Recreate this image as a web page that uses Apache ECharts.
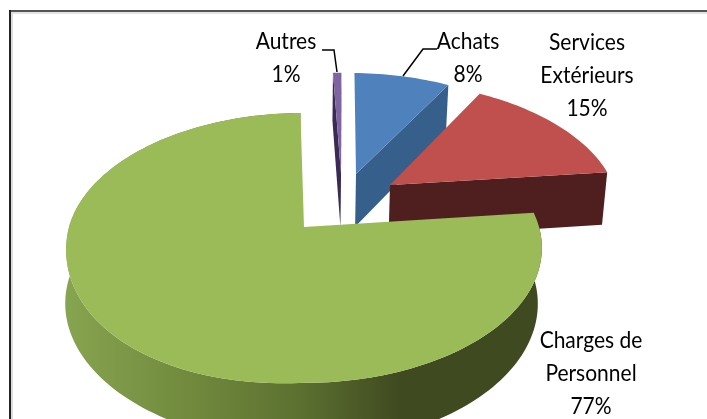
<!DOCTYPE html>
<html>
<head>
<meta charset="utf-8">
<style>
  html, body { margin: 0; padding: 0; background: #fff; }
  #chart { width: 707px; height: 419px; }
</style>
<script src="https://cdn.jsdelivr.net/npm/echarts@6/dist/echarts.min.js"></script>
</head>
<body>
<div id="chart"></div>
<script>
// drawn back to front, clockwise from the start angle
const categories = ['Autres', 'Achats', 'Services Extérieurs', 'Charges de Personnel'];
const values = [0.7, 8, 15, 77];
const percentLabels = ['1%', '8%', '15%', '77%'];

// how far each slice is pulled out of the pie, in pie radii (sideways, backwards)
const explode = [[0.168, 0.43], [0.236, 0.429], [0.385, 0.335], [0, 0]];

const topColors = ['#8064a2', '#4f81bd', '#c0504d', '#9bbb59'];
const wallColors = ['#3a2a55', '#375f8b', '#4f1f1f', '#4f5e2c'];

const startAngle = -1;
const perspective = 0.155;
// top and bottom planes of the pie
const topPlane = { x: 304, y: 227, a: 235, b: 131.7, sag: 13, spread: 0 };
const bottomPlane = { x: 304, y: 282, a: 231, b: 137.6, sag: 0, spread: 5 };

function project(plane, u, v) {
    const w = 1 + perspective * v;
    // the source picture is not quite symmetric, it bulges a little on its left
    const sag = plane.sag * Math.max(0, -u) * Math.max(0, -v);
    const spread = plane.spread * Math.max(0, -u);
    return [plane.x + plane.a * u / w - spread, plane.y - plane.b * v / w + sag];
}

// outer edge of a slice, from angle a0 to a1 in degrees
function arcPoints(plane, off, a0, a1) {
    const pts = [];
    const steps = Math.max(2, Math.ceil((a1 - a0) / 1.5));
    for (let i = 0; i <= steps; i++) {
        const t = (a0 + (a1 - a0) * i / steps) * Math.PI / 180;
        pts.push(project(plane, off[0] + Math.sin(t), off[1] + Math.cos(t)));
    }
    return pts;
}

function poly(points, fill) {
    return { type: 'polygon', shape: { points: points }, style: { fill: fill, stroke: null } };
}

const total = values.reduce((s, x) => s + x, 0);

function renderSlice(params, api) {
    const i = params.dataIndex;
    const before = values.slice(0, i).reduce((s, x) => s + x, 0);
    const a0 = startAngle + before / total * 360;
    const a1 = a0 + api.value(0) / total * 360;
    const off = explode[i];

    const topArc = arcPoints(topPlane, off, a0, a1);
    const botArc = arcPoints(bottomPlane, off, a0, a1);
    const topApex = project(topPlane, off[0], off[1]);
    const botApex = project(bottomPlane, off[0], off[1]);
    const last = topArc.length - 1;

    const children = [];
    // the thin slice shows its left cut face too
    if (i === 0) {
        children.push(poly([topApex, topArc[0], botArc[0], botApex], wallColors[i]));
    }
    if (i < 3) {
        children.push(poly([topApex, topArc[last], botArc[last], botApex], wallColors[i]));
    } else {
        // round outer wall, only the big front slice shows it
        children.push(poly(topArc.concat(botArc.slice().reverse()), new echarts.graphic.LinearGradient(0, 0, 1, 0, [
            { offset: 0, color: '#87a450' },
            { offset: 0.28, color: '#6f883c' },
            { offset: 0.5, color: '#5b6f30' },
            { offset: 0.7, color: '#404a20' },
            { offset: 1, color: '#404a20' }
        ])));
    }
    children.push(poly([topApex].concat(topArc), topColors[i]));
    return { type: 'group', children: children };
}

const chart = echarts.init(document.getElementById('chart'), null, { renderer: 'canvas' });

const labelFont = { font: '21px Lato, "Noto Sans", sans-serif', fill: '#000', textAlign: 'center', textVerticalAlign: 'middle', lineHeight: 29.5 };

function label(text, x, y) {
    return { type: 'text', x: x, y: y, z: 10, scaleY: 1.12, style: Object.assign({ text: text }, labelFont) };
}

function leader(points) {
    return { type: 'polyline', z: 10, shape: { points: points }, style: { stroke: '#000', lineWidth: 1.5, fill: null } };
}

chart.setOption({
    animation: false,
    backgroundColor: '#fff',
    graphic: [
        // picture frame with its soft inner edge
        { type: 'rect', shape: { x: 11, y: 12, width: 696, height: 2 }, style: { fill: '#e4e4e4' } },
        { type: 'rect', shape: { x: 11, y: 12, width: 2, height: 407 }, style: { fill: '#dcdcdc' } },
        { type: 'rect', shape: { x: 9, y: 10, width: 698, height: 2 }, style: { fill: '#555555' } },
        { type: 'rect', shape: { x: 9, y: 10, width: 2, height: 409 }, style: { fill: '#222222' } },
        label(categories[0] + '\n' + percentLabels[0], 286, 58),
        label(categories[1] + '\n' + percentLabels[1], 468, 58),
        label('Services\nExtérieurs\n' + percentLabels[2], 587, 75),
        label('Charges de\nPersonnel\n' + percentLabels[3], 591, 373),
        leader([[322, 50], [334, 50], [337, 72]]),
        leader([[437, 49], [423, 49], [403, 76]])
    ],
    series: [{
        type: 'custom',
        coordinateSystem: 'none',
        silent: true,
        clip: false,
        renderItem: renderSlice,
        data: values.map(v => [v])
    }]
});
</script>
</body>
</html>
